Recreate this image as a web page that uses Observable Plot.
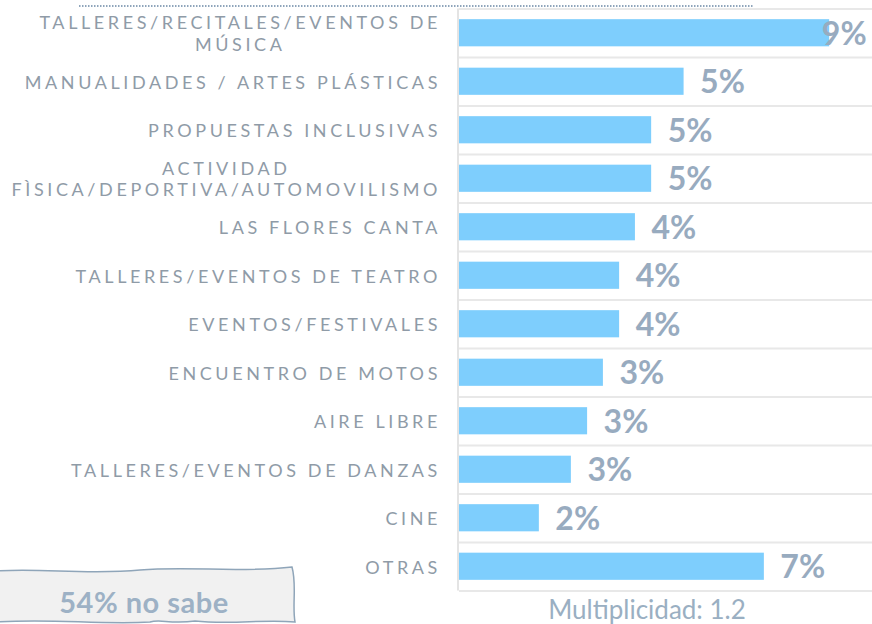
<!DOCTYPE html>
<html>
<head>
<meta charset="utf-8">
<script src="https://cdn.jsdelivr.net/npm/d3@7"></script>
<script src="https://cdn.jsdelivr.net/npm/@observablehq/plot@0.6"></script>
<style>
  html, body { margin: 0; padding: 0; background: #fff; }
  #wrap { position: relative; width: 872px; height: 624px; overflow: hidden; font-family: Lato, sans-serif; }
  #chart { position: absolute; left: 0; top: 0; }
  #deco { position: absolute; left: 0; top: 0; pointer-events: none; }
  #caption { position: absolute; left: 537px; top: 593px; width: 220px; text-align: center;
    font-size: 26px; color: #9aafc2; white-space: nowrap; }
</style>
</head>
<body>
<div id="wrap">
  <div id="chart"></div>
  <svg id="deco" width="872" height="624">
    <line x1="79" y1="6" x2="753" y2="6" stroke="#8fa5bb" stroke-width="2" stroke-dasharray="1.5,1.5"/>
    <path d="M-2,571 C40,568 90,575 140,570 C190,566 240,573 292,567 C297,585 292,605 295,622 C262,619 232,625 195,621 C170,624 160,619 150,622 C100,625 50,618 -2,622 Z"
      fill="#f1f1f1" stroke="#8fa5b9" stroke-width="1.5"/>
    <text x="144" y="613" text-anchor="middle" font-family="Lato" font-weight="700" font-size="29" letter-spacing="0.5" fill="#9db1c5">54% no sabe</text>
  </svg>
  <div id="caption">Multiplicidad: 1.2</div>
</div>
<script>
const categories = [
  "TALLERES/RECITALES/EVENTOS DE\nMÚSICA",
  "MANUALIDADES / ARTES PLÁSTICAS",
  "PROPUESTAS INCLUSIVAS",
  "ACTIVIDAD\nFÌSICA/DEPORTIVA/AUTOMOVILISMO",
  "LAS FLORES CANTA",
  "TALLERES/EVENTOS DE TEATRO",
  "EVENTOS/FESTIVALES",
  "ENCUENTRO DE MOTOS",
  "AIRE LIBRE",
  "TALLERES/EVENTOS DE DANZAS",
  "CINE",
  "OTRAS"
];
const values = [8.9, 5.4, 4.62, 4.62, 4.23, 3.85, 3.85, 3.46, 3.08, 2.69, 1.92, 7.33];
const valueLabels = ["9%", "5%", "5%", "5%", "4%", "4%", "4%", "3%", "3%", "3%", "2%", "7%"];

const data = categories.map((c, i) => ({cat: c, value: values[i], label: valueLabels[i]}));
const step = 48.5;

const chart = Plot.plot({
  width: 872,
  height: 624,
  marginLeft: 459,
  marginRight: 0,
  marginTop: 8.5,
  marginBottom: 33.5,
  x: {domain: [0, 9.93], axis: null},
  y: {domain: categories, axis: null, paddingInner: 0.44, paddingOuter: 0.22, round: false},
  style: {fontFamily: "Lato, sans-serif", background: "white"},
  marks: [
    Plot.ruleY(categories, {y: d => d, dy: -step / 2, stroke: "#e8e8e8", strokeWidth: 2}),
    Plot.ruleY([categories[categories.length - 1]], {y: d => d, dy: step / 2, stroke: "#e8e8e8", strokeWidth: 2}),
    Plot.ruleX([0], {dx: -1.5, stroke: "#e4e4e4", strokeWidth: 2}),
    Plot.barX(data, {x: "value", y: "cat", fill: "#7ecefd"}),
    Plot.text(data, {
      filter: d => d.value < 8, x: "value", y: "cat", text: "label",
      dx: 16, dy: 1, textAnchor: "start", fontSize: 32, fontWeight: 700, fill: "#98abbf"
    }),
    Plot.text(data, {
      filter: d => d.value >= 8, x: "value", y: "cat", text: "label",
      dx: 37, dy: 1, textAnchor: "end", fontSize: 32, fontWeight: 700, fill: "#98abbf"
    }),
    Plot.text(data, {
      y: "cat", text: "cat", frameAnchor: "left",
      textAnchor: "end", dx: -18.5, fontSize: 18, lineHeight: 1.2, fill: "#8f9ba7"
    })
  ]
});
document.getElementById("chart").appendChild(chart);

// letter-spacing for category labels, and center lines of multi-line labels within their block
const catSet = new Set(categories.map(c => c.replace("\n", "")));
chart.querySelectorAll("text").forEach(t => {
  if (!catSet.has(t.textContent)) return;
  t.style.letterSpacing = "3.6px";
  const spans = t.querySelectorAll("tspan");
  if (spans.length > 1) {
    let maxW = 0;
    spans.forEach(s => { maxW = Math.max(maxW, s.getComputedTextLength()); });
    t.setAttribute("text-anchor", "middle");
    spans.forEach(s => s.setAttribute("x", -maxW / 2));
  }
});
</script>
</body>
</html>
